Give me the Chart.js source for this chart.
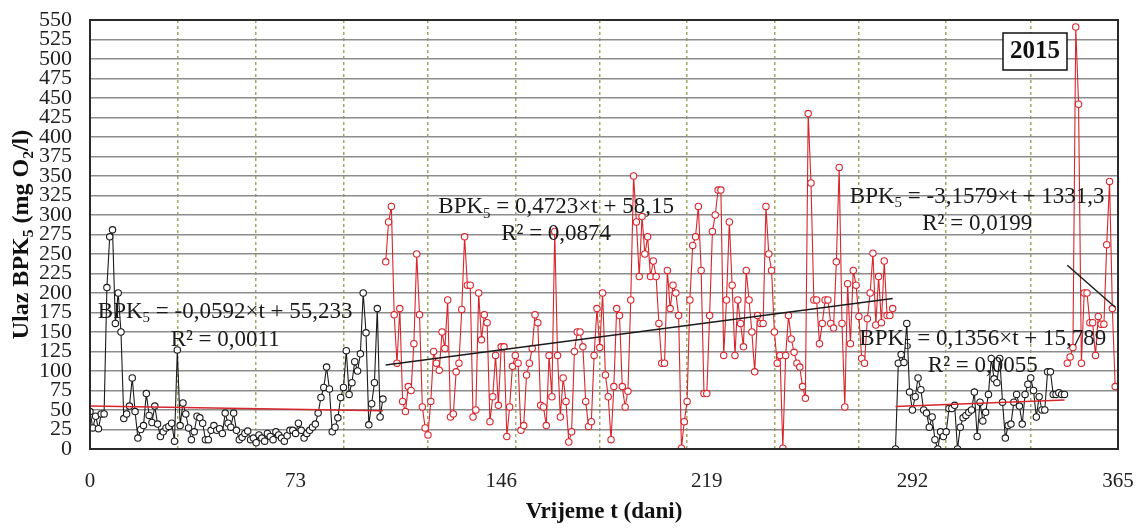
<!DOCTYPE html>
<html>
<head>
<meta charset="utf-8">
<script src="https://cdn.jsdelivr.net/npm/chart.js@4.4.0/dist/chart.umd.min.js"></script>
<style>
html, body { margin: 0; padding: 0; background: #fff; }
#okvir { width: 1144px; height: 529px; }
</style>
</head>
<body>
<div id="okvir"><canvas id="grafikon"></canvas></div>
<script>
// ulazni BPK5 po danima, 2015. (očitano sa slike)
const pocetak1 = 0;
const bpk1 = [48, 27, 42, 26, 45, 45, 207, 272, 281, 161,
    200, 150, 39, 45, 55, 91, 48, 14, 25, 30,
    71, 43, 34, 55, 32, 16, 22, 27, 29, 33,
    10, 127, 30, 59, 45, 27, 12, 22, 42, 40,
    33, 12, 12, 24, 30, 24, 26, 20, 46, 33,
    28, 46, 24, 12, 15, 20, 23, 12, 14, 8, 18,
    14, 10, 20, 16, 12, 22, 18, 14, 10, 17,
    24, 24, 20, 33, 24, 14, 20, 24, 28, 32,
    46, 66, 79, 105, 77, 22, 28, 40, 66, 79,
    126, 70, 85, 112, 100, 122, 200, 149, 31, 58,
    85, 180, 41, 64];

const pocetak2 = 105;
const bpk2 = [240, 291, 311, 172, 110, 180, 61, 48, 80, 75,
    135, 250, 172, 54, 27, 18, 61, 125, 110, 101,
    150, 129, 191, 41, 45, 99, 110, 179, 272, 210,
    210, 41, 50, 200, 140, 172, 162, 35, 67, 120,
    56, 131, 131, 16, 54, 106, 120, 110, 24, 30,
    95, 110, 129, 172, 162, 56, 54, 30, 120, 67,
    279, 120, 41, 91, 61, 9, 22, 125, 150, 150,
    131, 61, 29, 35, 120, 180, 130, 200, 95, 67,
    12, 80, 180, 171, 80, 54, 74, 191, 350, 291,
    221, 298, 250, 272, 221, 241, 221, 161, 110, 110,
    229, 180, 210, 200, 171, 1, 35, 61, 191, 261,
    272, 311, 229, 71, 71, 171, 279, 300, 332, 332,
    120, 191, 291, 210, 120, 191, 161, 131, 229, 191,
    150, 99, 171, 161, 161, 311, 250, 229, 150, 110,
    120, 1, 120, 171, 141, 124, 110, 105, 80, 65,
    430, 341, 191, 191, 135, 161, 191, 191, 161, 155,
    240, 361, 161, 54, 212, 135, 229, 210, 170, 116,
    110, 167, 200, 251, 159, 221, 162, 241, 171, 171,
    180];

const pocetak3 = 286;
const bpk3 = [0, 110, 121, 111, 161, 73, 50, 67, 91, 76,
    50, 46, 28, 41, 12, 0, 22, 16, 22, 52,
    52, 56, 0, 28, 40, 43, 47, 50, 73, 16,
    60, 36, 47, 70, 116, 90, 85, 116, 60, 14,
    30, 32, 60, 70, 55, 32, 70, 83, 91, 75,
    41, 67, 50, 50, 99, 99, 70, 70, 72, 70, 70];

const pocetak4 = 347;
const bpk4 = [110, 118, 130, 541, 442, 110, 200, 200, 162, 162,
    120, 170, 160, 160, 262, 343, 180, 80];

// linearni trendovi: početni/krajnji dan i vrijednost
const trendDani = [[0, 104], [105, 285], [286, 346], [347, 364]];
const trendVrijednosti = [[55.2, 49.1], [107.7, 192.8], [54.6, 62.7], [235.5, 181.8]];
const trendJednadzbe = [" = -0,0592×t + 55,233", " = 0,4723×t + 58,15", " = 0,1356×t + 15,789", " = -3,1579×t + 1331,3"];
const trendR2 = ["R² = 0,0011", "R² = 0,0874", "R² = 0,0055", "R² = 0,0199"];

const xOznake = [0, 73, 146, 219, 292, 365];
const mjeseci = [31, 59, 90, 120, 151, 181, 212, 243, 273, 304, 334];

const CRNA = '#1c1c1c';
const CRVENA = '#d8262d';
const SERIF = '"Liberation Serif", "Times New Roman", serif';

function tocke(pocetak, vrijednosti) {
    return vrijednosti.map((v, i) => ({ x: pocetak + i, y: v }));
}

function serija(pocetak, vrijednosti, boja) {
    return {
        data: tocke(pocetak, vrijednosti),
        showLine: true,
        borderColor: boja,
        borderWidth: 1.1,
        pointRadius: 3.2,
        pointBorderWidth: 1.1,
        pointBorderColor: boja,
        pointBackgroundColor: '#fff',
        order: 2
    };
}

function trend(i, boja) {
    return {
        data: trendDani[i].map((d, k) => ({ x: d, y: trendVrijednosti[i][k] })),
        showLine: true,
        borderColor: boja,
        borderWidth: 1.5,
        pointRadius: 0,
        order: 1
    };
}

// bez dodatnog razmaka oko osi, da okvir bude gdje treba
function bezRazmaka(s) {
    s.paddingTop = 0;
    s.paddingBottom = 0;
    s.paddingLeft = 0;
    s.paddingRight = 0;
}

// tekst sa indeksom (npr. BPK5)
function crtajTekst(ctx, dijelovi, cx, cy, vel, bold) {
    const tezina = bold ? 'bold ' : '';
    let ukupno = 0;
    dijelovi.forEach(([t, sub]) => {
        ctx.font = tezina + (sub ? vel * 0.65 : vel) + 'px ' + SERIF;
        ukupno += ctx.measureText(t).width;
    });
    let x = cx - ukupno / 2;
    ctx.textAlign = 'left';
    ctx.textBaseline = 'middle';
    dijelovi.forEach(([t, sub]) => {
        ctx.font = tezina + (sub ? vel * 0.65 : vel) + 'px ' + SERIF;
        ctx.fillText(t, x, sub ? cy + vel * 0.28 : cy);
        x += ctx.measureText(t).width;
    });
}

const oznake = {
    id: 'oznake',
    afterDraw(chart) {
        const ctx = chart.ctx;
        const a = chart.chartArea;
        const sx = chart.scales.x, sy = chart.scales.y;
        ctx.save();

        // okvir
        ctx.strokeStyle = '#2a2a2a';
        ctx.lineWidth = 2;
        ctx.strokeRect(a.left, a.top, a.right - a.left, a.bottom - a.top);

        // jednadžbe trendova (položaj u danima / mg O2/l)
        const polozaj = [[48, 176, 140], [165.5, 310, 276], [317, 141, 107], [315, 323, 289]];
        ctx.fillStyle = '#1a1a1a';
        polozaj.forEach(([d, v1, v2], i) => {
            const cx = sx.getPixelForValue(d);
            crtajTekst(ctx, [['BPK', 0], ['5', 1], [trendJednadzbe[i], 0]], cx, sy.getPixelForValue(v1), 23, false);
            crtajTekst(ctx, [[trendR2[i], 0]], cx, sy.getPixelForValue(v2), 23, false);
        });

        // godina
        ctx.fillStyle = '#fff';
        ctx.fillRect(1003, 33, 64, 37);
        ctx.strokeStyle = '#111';
        ctx.lineWidth = 1.5;
        ctx.strokeRect(1003, 33, 64, 37);
        ctx.fillStyle = '#111';
        crtajTekst(ctx, [['2015', 0]], 1035, 52, 25, true);

        // naslovi osi
        crtajTekst(ctx, [['Vrijeme t (dani)', 0]], (a.left + a.right) / 2, 512, 23, true);
        ctx.translate(22, (a.top + a.bottom) / 2);
        ctx.rotate(-Math.PI / 2);
        crtajTekst(ctx, [['Ulaz BPK', 0], ['5', 1], [' (mg O', 0], ['2', 1], ['/l)', 0]], 0, 0, 24, true);
        ctx.restore();
    }
};

new Chart(document.getElementById('grafikon'), {
    type: 'scatter',
    data: {
        datasets: [
            trend(0, CRVENA), trend(1, CRNA), trend(2, CRVENA), trend(3, CRNA),
            serija(pocetak1, bpk1, CRNA),
            serija(pocetak2, bpk2, CRVENA),
            serija(pocetak3, bpk3, CRNA),
            serija(pocetak4, bpk4, CRVENA)
        ]
    },
    options: {
        responsive: true,
        maintainAspectRatio: false,
        animation: false,
        layout: { padding: { top: 20, right: 26, left: 0, bottom: 0 } },
        plugins: { legend: { display: false }, tooltip: { enabled: false } },
        scales: {
            x: {
                type: 'linear',
                min: 0,
                max: 365,
                afterBuildTicks: s => {
                    s.ticks = [...xOznake, ...mjeseci].sort((p, q) => p - q).map(v => ({ value: v }));
                },
                afterFit: s => { s.height = 80; bezRazmaka(s); },
                grid: {
                    drawTicks: false,
                    lineWidth: 1.5,
                    color: c => (c.tick && mjeseci.includes(c.tick.value)) ? '#a5a563' : 'rgba(0,0,0,0)'
                },
                border: { display: false, dash: [3, 3] },
                ticks: {
                    autoSkip: false,
                    maxRotation: 0,
                    padding: 20,
                    color: '#222',
                    font: { family: SERIF, size: 21 },
                    callback: v => xOznake.includes(v) ? String(v) : ''
                }
            },
            y: {
                min: 0,
                max: 550,
                afterFit: s => { s.width = 90; bezRazmaka(s); },
                grid: { drawTicks: false, color: '#8c8c8c', lineWidth: 1.5 },
                border: { display: false },
                ticks: {
                    stepSize: 25,
                    autoSkip: false,
                    padding: 18,
                    color: '#222',
                    font: { family: SERIF, size: 22 }
                }
            }
        }
    },
    plugins: [oznake]
});
</script>
</body>
</html>
